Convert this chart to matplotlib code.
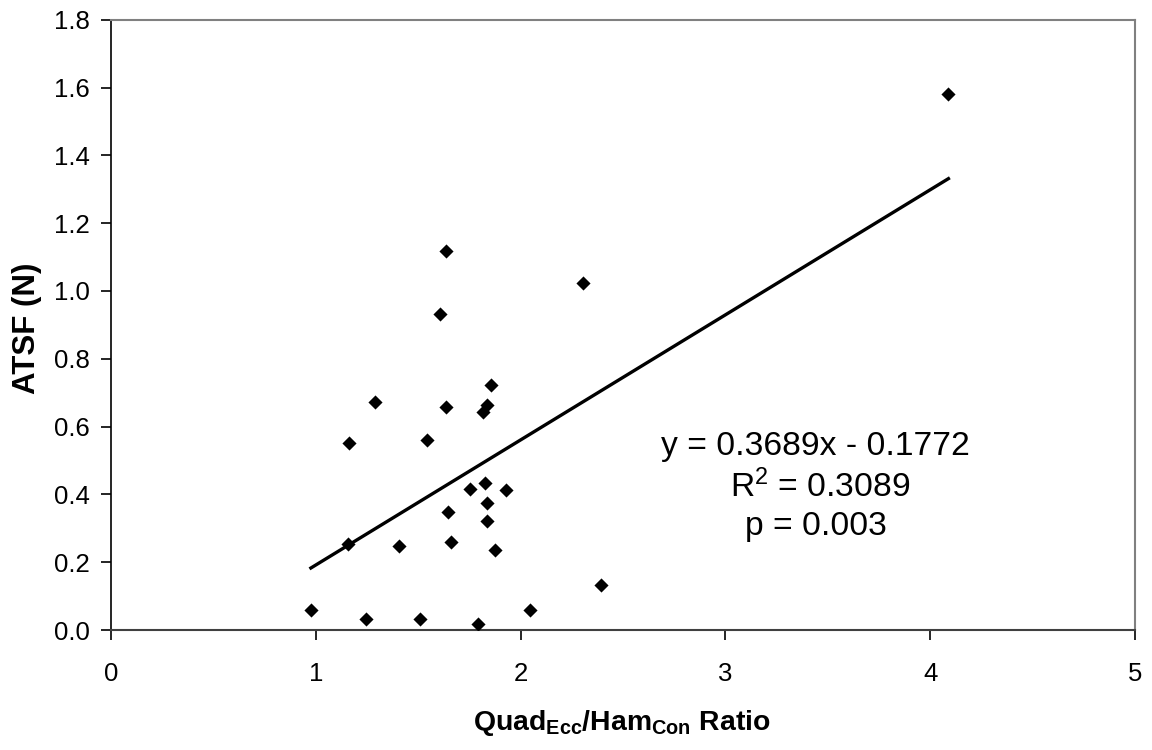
import matplotlib
matplotlib.use("Agg")
import matplotlib.pyplot as plt
import numpy as np

plt.rcParams['font.family'] = ['Liberation Sans', 'DejaVu Sans']
plt.rcParams['mathtext.fontset'] = 'custom'
plt.rcParams['mathtext.rm'] = 'Liberation Sans'
plt.rcParams['mathtext.bf'] = 'Liberation Sans:bold'
plt.rcParams['mathtext.it'] = 'Liberation Sans:italic'

# Quadriceps eccentric / hamstring concentric ratio vs ATSF
ratio = [0.976, 1.244, 1.511, 1.794, 2.045, 2.392, 1.156, 1.408, 1.661, 1.873,
         1.645, 1.834, 1.834, 1.754, 1.826, 1.928, 1.164, 1.542, 1.291, 1.637,
         1.834, 1.817, 1.637, 1.606, 2.306, 1.856, 4.089]
atsf = [0.059, 0.032, 0.032, 0.017, 0.059, 0.132, 0.253, 0.248, 0.259, 0.237,
        0.348, 0.322, 0.375, 0.417, 0.434, 0.412, 0.553, 0.559, 0.672, 0.659,
        0.665, 0.643, 1.117, 0.932, 1.022, 0.722, 1.581]

# Linear trendline coefficients
slope = 0.3689
intercept = -0.1772
r_squared = 0.3089
p_value = 0.003

x_ticks = [0, 1, 2, 3, 4, 5]
y_ticks = [0.0, 0.2, 0.4, 0.6, 0.8, 1.0, 1.2, 1.4, 1.6, 1.8]

W, H = 1152, 750
fig = plt.figure(figsize=(W / 100, H / 100), dpi=100)
ax = fig.add_axes([111 / W, (H - 630) / H, (1135 - 111) / W, (630 - 19.7) / H])

ax.scatter(ratio, atsf, marker='D', s=7.2 ** 2, color='black', zorder=3, linewidths=0)

xfit = np.array([min(ratio), max(ratio)])
ax.plot(xfit, slope * xfit + intercept, color='black', lw=2.4, zorder=2)

ax.set_xlim(0, 5)
ax.set_ylim(0, 1.8)
ax.set_xticks(x_ticks)
ax.set_xticklabels([str(t) for t in x_ticks])
ax.set_yticks(y_ticks)
ax.set_yticklabels([f"{t:.1f}" for t in y_ticks])
ax.tick_params(axis='both', direction='out', length=7, width=1.2, labelsize=18.5,
               color='black')
ax.tick_params(axis='x', pad=16)
ax.tick_params(axis='y', pad=8)

for side in ['top', 'right']:
    ax.spines[side].set_color('#808080')
    ax.spines[side].set_linewidth(1.5)
ax.spines['left'].set_color('black')
ax.spines['left'].set_linewidth(1.2)
ax.spines['bottom'].set_color('#404040')
ax.spines['bottom'].set_linewidth(1.5)

fig.text(622 / W, 1 - 723 / H, r'$\mathbf{Quad_{Ecc}/Ham_{Con}\ Ratio}$',
         ha='center', va='center', fontsize=20.4)
fig.text(27 / W, 1 - 328 / H, 'ATSF (N)', rotation=90, ha='center', va='center',
         fontsize=22.5, fontweight='bold')

fig.text(815 / W, 1 - 447 / H, f'y = {slope:.4f}x - {abs(intercept):.4f}',
         ha='center', va='center', fontsize=24.2)
fig.text(820 / W, 1 - 487 / H, f'R$^2$ = {r_squared:.4f}',
         ha='center', va='center', fontsize=24.2)
fig.text(816 / W, 1 - 527 / H, f'p = {p_value:.3f}',
         ha='center', va='center', fontsize=24.2)

fig.savefig('out.png', dpi=100)
